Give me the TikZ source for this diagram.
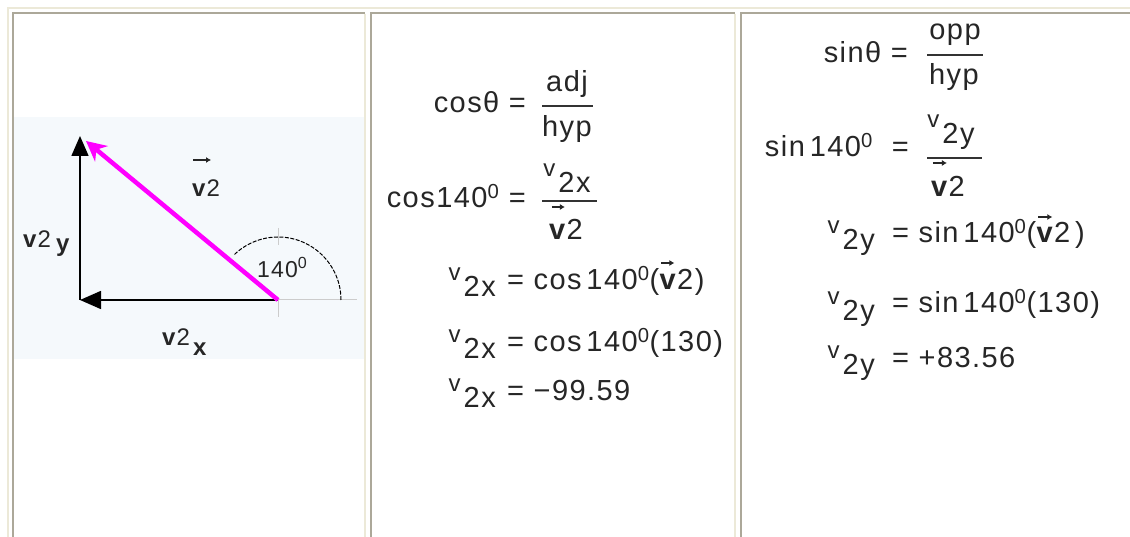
\documentclass[tikz,border=0pt]{standalone}
\usepackage{fontspec}
\setmainfont{Liberation Sans}[LetterSpace=5]
\usepackage{tikz}
\usetikzlibrary{arrows.meta,positioning}

\definecolor{cellline}{RGB}{172,168,153}
\definecolor{tableline}{RGB}{236,233,216}
\definecolor{panelbg}{RGB}{245,249,252}
\definecolor{vecpink}{RGB}{255,0,255}

\newcommand{\vtwo}[1]{\raisebox{9pt}{\fontsize{24}{24}\selectfont v}\kern3pt\raisebox{-7pt}{2#1}}
\newcommand{\dg}{\textsuperscript{0}}

\begin{document}
\begin{tikzpicture}[x=1pt,y=-1pt,>=Latex,
  eq/.style={inner sep=0pt,font=\fontsize{29}{34}\selectfont,text=black!85},
  lbl/.style={inner sep=0pt,anchor=base west,font=\fontsize{24}{26}\selectfont,text=black!85},
  tline/.style={draw=tableline,line width=2pt},
  cline/.style={draw=cellline,line width=2pt},
  fracbar/.style={line width=1.5pt,draw=black!80},
  vecarrow/.style={line width=1.1pt,draw=black!85,-{Latex[length=5pt,width=6pt]}}]
\useasboundingbox (0,0) rectangle (1130,537);
\fill[white] (0,0) rectangle (1130,537);
\fill[panelbg] (14,117) rectangle (364,359);
% table frame
\draw[tline] (8,537)--(8,8)--(1130,8);
\draw[cline] (13,537)--(13,13)--(365,13);
\draw[tline] (365,14)--(365,537);
\draw[cline] (371,537)--(371,13)--(735,13);
\draw[tline] (735,14)--(735,537);
\draw[cline] (741,537)--(741,13)--(1130,13);
% vector diagram
\coordinate (tail) at (278,300);
\coordinate (corner) at (80,300);
\coordinate (top) at (80,136);
\coordinate (head) at (86,141);
\draw[gray!40,line width=1pt] (tail)--(357,300);
\draw[gray!40,line width=1pt] (278,228)--(278,245) (tail)--(278,317);
\draw[line width=1pt,dash pattern=on 4pt off 1.5pt] ([shift={(0:63)}]tail) arc[start angle=0,end angle=-135,radius=63];
\draw[line width=1.6pt,-{Triangle[length=21pt,width=18pt]}] (tail)--(corner);
\draw[line width=1.6pt,-{Triangle[length=20pt,width=17pt]}] (corner)--(top);
\draw[vecpink,line width=4.5pt,-{Stealth[length=20pt,width=20pt]}] (tail)--(head);
\node[lbl] (vlabel) at (192,197) {\textbf{v}2};
\draw[vecarrow] ([shift={(1,-37)}]vlabel.base west)--++(18,0);
\node[lbl] (vylabel) at (23,248) {\textbf{v}2\hspace{5pt}\raisebox{-4pt}{\textbf{y}}};
\node[lbl] (vxlabel) at (162,345) {\textbf{v}2\hspace{3pt}\raisebox{-10pt}{\textbf{x}}};
\node[lbl,font=\fontsize{23}{24}\selectfont] (angle) at (257,278) {140\dg};
% cos column
\node[eq,anchor=base east] (cosdef) at (526,113) {cosθ =};
\node[eq,anchor=base] (adj) at (567,92) {adj};
\node[eq,anchor=base] (hypA) at (567,137) {hyp};
\draw[fracbar] (542,106)--(593,106);
\node[eq,anchor=base east] (cosval) at (526,208) {cos140\dg\ =};
\node[eq,anchor=south] (vxnum) at (567,193) {\vtwo{x}};
\node[eq,anchor=base] (vxden) at (566,240) {\textbf{v}2};
\draw[vecarrow] ([shift={(3,-33)}]vxden.base west)--++(13,0);
\draw[fracbar] (542,201)--(597,201);
\node[eq,anchor=base east] (vxA) at (496,290) {\vtwo{x}};
\node[eq,anchor=base west] (cosA) at (507,290) {= cos\,140\dg(};
\node[eq,anchor=base west] (vecA) at (cosA.base east) {\textbf{v}2)};
\draw[vecarrow] ([shift={(2,-27)}]vecA.base west)--++(13,0);
\node[eq,anchor=base east] (vxB) at (496,352) {\vtwo{x}};
\node[eq,anchor=base west] (cosB) at (507,352) {= cos\,140\dg(130)};
\node[eq,anchor=base east] (vxC) at (496,400) {\vtwo{x}};
\node[eq,anchor=base west] (cosC) at (507,400) {= −99.59};
% sin column
\node[eq,anchor=base east] (sindef) at (908,63) {sinθ =};
\node[eq,anchor=base] (opp) at (955,40) {opp};
\node[eq,anchor=base] (hypB) at (954,85) {hyp};
\draw[fracbar] (927,55)--(983,55);
\node[eq,anchor=base east] (sinval) at (909,157) {sin\,140\dg\ \ =};
\node[eq,anchor=south] (vynum) at (951,150) {\vtwo{y}};
\node[eq,anchor=base] (vyden) at (948,197) {\textbf{v}2};
\draw[vecarrow] ([shift={(2,-34)}]vyden.base west)--++(14,0);
\draw[fracbar] (927,158)--(982,158);
\node[eq,anchor=base east] (vyA) at (875,243) {\vtwo{y}};
\node[eq,anchor=base west] (sinA) at (892,243) {= sin\,140\dg(};
\node[eq,anchor=base west] (vecB) at (sinA.base east) {\textbf{v}2\,)};
\draw[vecarrow] ([shift={(2,-26)}]vecB.base west)--++(14,0);
\node[eq,anchor=base east] (vyB) at (875,313) {\vtwo{y}};
\node[eq,anchor=base west] (sinB) at (892,313) {= sin\,140\dg(130)};
\node[eq,anchor=base east] (vyC) at (875,367) {\vtwo{y}};
\node[eq,anchor=base west] (sinC) at (892,367) {= +83.56};
\end{tikzpicture}
\end{document}
